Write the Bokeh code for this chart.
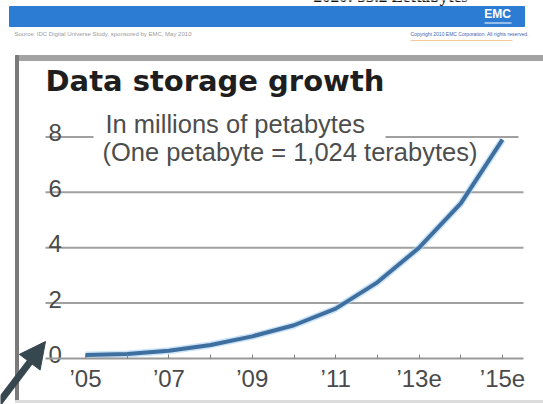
from bokeh.plotting import figure
from bokeh.models import Range1d, FixedTicker, Label, Arrow, NormalHead
from bokeh.core.properties import value
from bokeh.embed import file_html
from bokeh.resources import INLINE

# ---------------- data ----------------
years = [2005, 2006, 2007, 2008, 2009, 2010, 2011, 2012, 2013, 2014, 2015]
storage_mpb = [0.13, 0.16, 0.28, 0.49, 0.80, 1.20, 1.80, 2.75, 4.00, 5.60, 7.90]
x_tick_labels = ["\u201905", "", "\u201907", "", "\u201909", "", "\u201911", "", "\u201913e", "", "\u201915e"]
y_ticks = [0, 2, 4, 6, 8]
y_tick_labels = ["0", "2", "4", "6", "8"]
title_text = "Data storage growth"
subtitle_lines = ["In millions of petabytes", "(One petabyte = 1,024 terabytes)"]
header_text = "2020: 35.2 Zettabytes"
source_text = "Source: IDC Digital Universe Study, sponsored by EMC, May 2010"
copyright_text = "Copyright 2010 EMC Corporation. All rights reserved."
brand_text = "EMC"

# ---------------- layout helpers (pixel -> data) ----------------
W, H = 543, 404
X0_PX, PX_PER_YEAR = 85.0, 41.7
Y0_PX, PX_PER_UNIT = 358.0, 27.7


def dx(px):
    return years[0] + (px - X0_PX) / PX_PER_YEAR


def dy(py):
    return (Y0_PX - py) / PX_PER_UNIT


p = figure(width=W, height=H,
           x_range=Range1d(dx(0), dx(W)), y_range=Range1d(dy(H), dy(0)),
           output_backend="svg", toolbar_location=None,
           min_border=0, outline_line_color=None,
           background_fill_color="white", border_fill_color="white")
p.grid.visible = False
p.yaxis.visible = False

# x axis drawn at y = 0 inside the frame
ax = p.xaxis[0]
ax.fixed_location = 0
ax.bounds = (dx(45), dx(523))
ax.ticker = FixedTicker(ticks=years)
ax.major_label_overrides = {y: t for y, t in zip(years, x_tick_labels)}
ax.axis_line_color = "#9a9a9a"
ax.axis_line_width = 2
ax.major_tick_in = 4
ax.major_tick_out = 0
ax.major_tick_line_color = "#808080"
ax.major_tick_line_width = 1
ax.minor_tick_line_color = None
ax.major_label_standoff = 6
ax.major_label_text_font = "Liberation Sans"
ax.major_label_text_font_size = "24px"
ax.major_label_text_color = "#4a4a4a"

# ---------------- frame of the photographed slide ----------------
p.quad(left=dx(15), right=dx(543), top=dy(55), bottom=dy(60), color="#a3a3a3")
p.quad(left=dx(15), right=dx(18), top=dy(55), bottom=dy(401), color="#7a7a7a")
p.quad(left=dx(15), right=dx(543), top=dy(400), bottom=dy(402), color="#dcdcdc")

# header bar
p.quad(left=dx(9), right=dx(524), top=dy(6), bottom=dy(26), color="#2d7cd3")
p.add_layout(Label(x=dx(497), y=dy(20), text=brand_text, text_align="center",
                   text_color="white", text_font="Liberation Sans", text_font_style="bold",
                   text_font_size="12px"))
p.segment(x0=dx(484), x1=dx(511), y0=dy(22.5), y1=dy(22.5), line_color="white", line_width=1.2)
p.add_layout(Label(x=dx(313), y=dy(5.5), text=header_text, text_color="#111111",
                   text_font="Liberation Serif", text_font_style="bold", text_font_size="17px"))
p.add_layout(Label(x=dx(14), y=dy(36), text=source_text, text_color="#9a9a9a",
                   text_font="Liberation Sans", text_font_size="6px"))
p.add_layout(Label(x=dx(410), y=dy(36), text=copyright_text, text_color="#3f5fb0",
                   text_font="Liberation Sans", text_font_size="5px"))
p.segment(x0=dx(410), x1=dx(512), y0=dy(40), y1=dy(40), line_color="#f4c9a0", line_width=1)

# ---------------- chart ----------------
p.add_layout(Label(x=dx(45), y=dy(97), text=title_text, text_color="#1e1e1e",
                   text_font="DejaVu Sans", text_font_style="bold", text_font_size="29px"))
p.add_layout(Label(x=dx(105), y=dy(137), text=subtitle_lines[0], text_color="#4d4d4d",
                   text_font="Liberation Sans", text_font_size="25.5px"))
p.add_layout(Label(x=dx(102), y=dy(165), text=subtitle_lines[1], text_color="#4d4d4d",
                   text_font="Liberation Sans", text_font_size="25.5px"))

# gridlines (top one broken around the subtitle)
grid_kw = dict(line_color="#a0a0a0", line_width=2)
mid_ticks = y_ticks[1:-1]
p.segment(x0=[dx(45)] * len(mid_ticks), x1=[dx(523)] * len(mid_ticks),
          y0=mid_ticks, y1=mid_ticks, **grid_kw)
top = y_ticks[-1]
p.segment(x0=[dx(45), dx(385)], x1=[dx(93), dx(518)], y0=[top, top], y1=[top, top], **grid_kw)

# y tick labels sit above their gridlines
p.text(x=[dx(48)] * len(y_ticks), y=y_ticks, text=y_tick_labels,
       text_font=value("Liberation Sans"), text_font_size="24px", text_color="#4a4a4a",
       text_baseline="alphabetic", y_offset=-4)

# the series
p.line(years, storage_mpb, line_color="#a9d2f2", line_width=7, line_alpha=0.6)
p.line(years, storage_mpb, line_color="#3e6f9f", line_width=4)

# pointer arrow
p.add_layout(Arrow(end=NormalHead(size=26, fill_color="#37474f", line_color="#37474f"),
                   x_start=dx(-6), y_start=dy(408), x_end=dx(45), y_end=dy(341),
                   line_color="#37474f", line_width=7))

open("out.html", "w").write(file_html(p, INLINE))
